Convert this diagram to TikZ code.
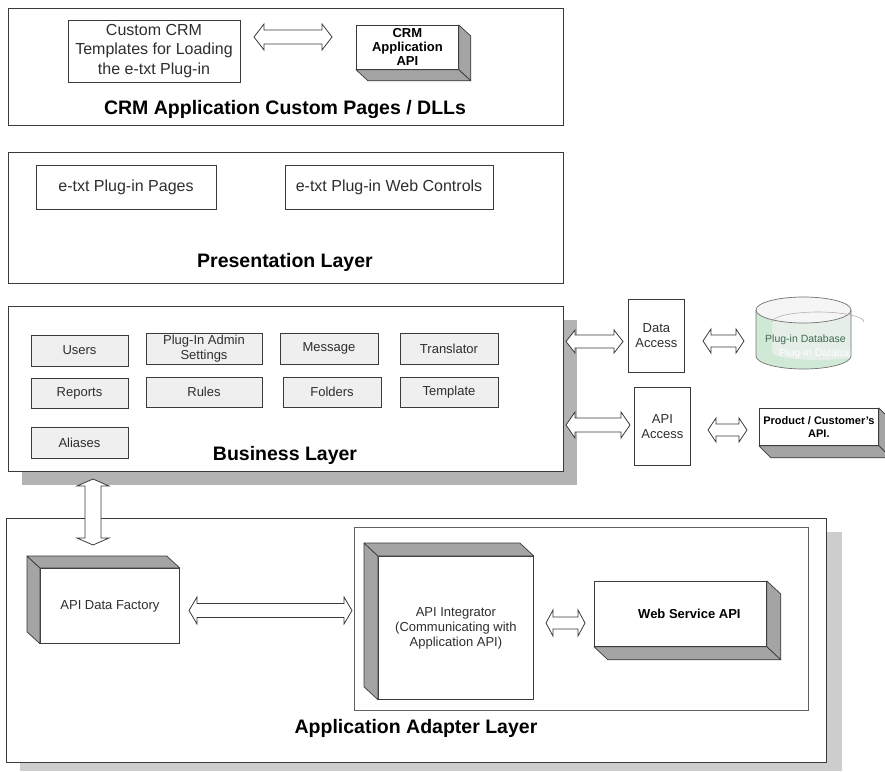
\documentclass[tikz,border=0pt]{standalone}
\usepackage{fontspec}
\setmainfont{Liberation Sans}
\usetikzlibrary{calc}
\definecolor{edge}{HTML}{3A3A3A}
\definecolor{sideg}{HTML}{A4A4A4}
\definecolor{shad}{HTML}{B3B3B3}
\definecolor{adshad}{HTML}{CDCDCD}
\definecolor{boxg}{HTML}{EFEFEF}
\definecolor{dbgreen}{HTML}{CFE9D6}
\definecolor{dbwhite}{HTML}{E6EEE8}
\definecolor{dbtext}{HTML}{3E6B52}
\definecolor{txt}{HTML}{2E2E2E}
\newcommand\ftitle{\fontsize{19.5}{22}\selectfont\bfseries}
\newcommand\fbig{\fontsize{16}{19.5}\selectfont}
\newcommand\fsmall{\fontsize{13}{14.5}\selectfont}
\newcommand\fsmallb{\fontsize{13}{14}\selectfont\bfseries}
% horizontal block double arrow: x1 x2 yc H S L
\newcommand\harrowshape[6]{%
  \draw[barrow] (#1,#3) -- ({#1+#6},{#3-#4}) -- ({#1+#6},{#3-#5}) -- ({#2-#6},{#3-#5})
    -- ({#2-#6},{#3-#4}) -- (#2,#3) -- ({#2-#6},{#3+#4}) -- ({#2-#6},{#3+#5})
    -- ({#1+#6},{#3+#5}) -- ({#1+#6},{#3+#4}) -- cycle;}
% vertical block double arrow: xc y1 y2 H S L
\newcommand\varrowshape[6]{%
  \draw[barrow] (#1,#2) -- ({#1+#4},{#2+#6}) -- ({#1+#5},{#2+#6}) -- ({#1+#5},{#3-#6})
    -- ({#1+#4},{#3-#6}) -- (#1,#3) -- ({#1-#4},{#3-#6}) -- ({#1-#5},{#3-#6})
    -- ({#1-#5},{#2+#6}) -- ({#1-#4},{#2+#6}) -- cycle;}
\begin{document}
\begin{tikzpicture}[x=1pt,y=-1pt,
  layer/.style={draw=edge, line width=0.9pt, fill=white, inner sep=0pt, anchor=north west},
  inbox/.style={draw=edge, line width=0.8pt, fill=white, inner sep=0pt, align=center, text=txt},
  gbox/.style={draw=edge, line width=0.8pt, fill=boxg, inner sep=0pt, align=center, text=txt, font=\fsmall, minimum height=31},
  front/.style={draw=edge, line width=0.8pt, fill=white, inner sep=0pt, align=center, text=txt, anchor=north west},
  side/.style={draw=edge, line width=0.7pt, fill=sideg, line join=round},
  barrow/.style={draw=edge, line width=0.8pt, fill=white, line join=miter},
  title/.style={font=\ftitle, text=black, inner sep=0pt},
]
\path[use as bounding box] (0,0) rectangle (885,771);
\fill[white] (0,0) rectangle (885,771);

% ---------- CRM custom pages layer ----------
\node[layer, minimum width=555, minimum height=117] (crmlayer) at (8,8) {};
\node[inbox, font=\fbig, minimum width=172, minimum height=62] (tmpl) at (154,51)
  {Custom CRM\\Templates for Loading\\the e-txt Plug-in};
\node[front, font=\fsmallb, text=black, minimum width=102, minimum height=44] (crmapi) at (356,25)
  {CRM\\Application\\API};
\draw[side] (crmapi.north east) -- ++(12,11) -- ($(crmapi.south east)+(12,11)$) -- (crmapi.south east) -- cycle;
\draw[side] (crmapi.south west) -- ++(12,11) -- ($(crmapi.south east)+(12,11)$) -- (crmapi.south east) -- cycle;
\harrowshape{254}{332}{37}{13}{7}{10}
\node[title] (crmtitle) at (285,109) {CRM Application Custom Pages / DLLs};

% ---------- Presentation layer ----------
\node[layer, minimum width=555, minimum height=131] (preslayer) at (8,152) {};
\node[inbox, font=\fbig, minimum width=180, minimum height=44] (pages) at (126,187) {e-txt Plug-in Pages};
\node[inbox, font=\fbig, minimum width=208, minimum height=44] (webctl) at (389,187) {e-txt Plug-in Web Controls};
\node[title] (prestitle) at (285,262) {Presentation Layer};

% ---------- Business layer ----------
\fill[shad] (22,320) rectangle (577,485);
\node[layer, minimum width=555, minimum height=165] (buslayer) at (8,306) {};
\node[gbox, minimum width=97] (users) at (79.5,350.5) {Users};
\node[gbox, minimum width=116] (admin) at (204,348.5) {Plug-In Admin\\Settings};
\node[gbox, minimum width=98] (message) at (329,348.5) {Message};
\node[gbox, minimum width=98] (transl) at (449,348.5) {Translator};
\node[gbox, minimum width=97, minimum height=30] (reports) at (79.5,393) {Reports};
\node[gbox, minimum width=116, minimum height=30] (rules) at (204,392) {Rules};
\node[gbox, minimum width=98, minimum height=30] (folders) at (332,392) {Folders};
\node[gbox, minimum width=98, minimum height=30] (templ) at (449,392) {Template};
\node[gbox, minimum width=97] (aliases) at (79.5,442.5) {Aliases};
\node[title] (bustitle) at (285,455) {Business Layer};

% ---------- Data / API access ----------
\node[front, font=\fontsize{13}{15}\selectfont, minimum width=56, minimum height=73] (dacc) at (628,299) {Data\\Access};
\node[front, font=\fontsize{13}{15}\selectfont, minimum width=56, minimum height=78] (aacc) at (634,387) {API\\Access};
\harrowshape{566}{623}{341.5}{11.5}{6.5}{9}
\harrowshape{566}{630}{425}{13}{7}{9}
\harrowshape{703}{744}{341}{12}{6}{8}
\harrowshape{708}{747}{430}{12}{6}{8}

% database cylinder
\coordinate (db) at (803.5,333);
\begin{scope}
  \path[clip] (756,310) -- (756,356) arc[start angle=180, end angle=0, x radius=47.5, y radius=13]
    -- (851,310) arc[start angle=0, end angle=-180, x radius=47.5, y radius=13] -- cycle;
  \fill[dbgreen] (750,290) rectangle (860,375);
  \fill[dbwhite] (772,318) arc[start angle=180, end angle=360, x radius=46, y radius=10]
    -- (864,352) arc[start angle=0, end angle=180, x radius=46, y radius=8] -- cycle;
  \node[text=white, font=\fontsize{10.5}{12}\selectfont, anchor=west, inner sep=0pt] (dbghost) at (779,354) {Plug-in Database};
\end{scope}
\draw[draw=black!55, line width=0.7pt, fill=white!96!black] (803.5,310) ellipse[x radius=47.5, y radius=13];
\draw[draw=white!70!black, line width=0.6pt] (772,322) arc[start angle=180, end angle=360, x radius=46, y radius=10];
\draw[draw=black!55, line width=0.7pt] (756,310) -- (756,356) arc[start angle=180, end angle=0, x radius=47.5, y radius=13] -- (851,310);
\node[text=dbtext, font=\fontsize{10.5}{12}\selectfont, anchor=west, inner sep=0pt] (dblabel) at (765,340) {Plug-in Database};

% product API
\node[front, font=\fontsize{11}{13}\selectfont\bfseries, text=black, minimum width=119, minimum height=37] (prod) at (759,408)
  {Product / Customer's\\API.};
\draw[side] (prod.north east) -- ++(12,12) -- ($(prod.south east)+(12,12)$) -- (prod.south east) -- cycle;
\draw[side] (prod.south west) -- ++(12,12) -- ($(prod.south east)+(12,12)$) -- (prod.south east) -- cycle;

% ---------- Application adapter layer ----------
\fill[adshad] (20,532) rectangle (842,771);
\node[layer, minimum width=820, minimum height=244] (adlayer) at (6,518) {};
\draw[draw=edge!80, line width=0.8pt] (354,527) rectangle (808,710);
\coordinate (inner) at (354,527);

\node[front, font=\fsmall, minimum width=139, minimum height=75] (adf) at (40,568) {API Data Factory};
\draw[side] (adf.north west) -- ++(-13,-12) -- ($(adf.south west)+(-13,-12)$) -- (adf.south west) -- cycle;
\draw[side] (adf.north west) -- ++(-13,-12) -- ($(adf.north east)+(-13,-12)$) -- (adf.north east) -- cycle;

\node[front, font=\fontsize{13}{15}\selectfont, minimum width=155, minimum height=143] (integ) at (378,556)
  {API Integrator\\(Communicating with\\Application API)};
\draw[side] (integ.north west) -- ++(-14,-13) -- ($(integ.south west)+(-14,-13)$) -- (integ.south west) -- cycle;
\draw[side] (integ.north west) -- ++(-14,-13) -- ($(integ.north east)+(-14,-13)$) -- (integ.north east) -- cycle;

\node[front, font=\fsmallb, text=black, minimum width=172, minimum height=65] (wsapi) at (594,581)
  {\hspace*{18pt}Web Service API};
\draw[side] (wsapi.north east) -- ++(14,13) -- ($(wsapi.south east)+(14,13)$) -- (wsapi.south east) -- cycle;
\draw[side] (wsapi.south west) -- ++(14,13) -- ($(wsapi.south east)+(14,13)$) -- (wsapi.south east) -- cycle;

\varrowshape{93}{479}{545}{16}{8}{7}
\harrowshape{189}{352}{610.5}{13.5}{7}{8}
\harrowshape{546}{585}{623}{13}{6}{7}

\node[title] (adtitle) at (416,728) {Application Adapter Layer};
\end{tikzpicture}
\end{document}
